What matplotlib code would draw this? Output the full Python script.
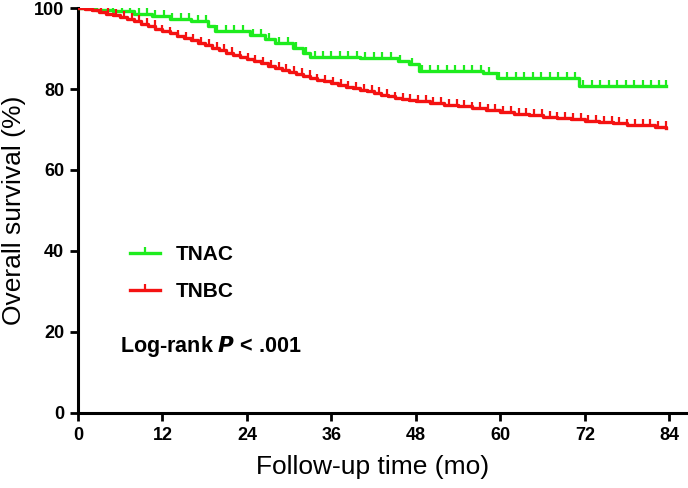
import matplotlib.pyplot as plt
import numpy as np

plt.rcParams['font.family'] = ['Liberation Sans', 'DejaVu Sans']

# Kaplan-Meier step points (months, % surviving)
tnac_t = [0, 2.5, 5, 8, 10.5, 13, 16, 18.5, 19.5, 24.5, 26.5, 28, 30.5, 32, 33,
          40, 45.5, 47, 48.5, 57.5, 59.5, 71.2, 83.6]
tnac_s = [100, 99.6, 99.2, 98.6, 98.0, 97.4, 96.8, 95.6, 94.2, 93.4, 92.4, 91.4,
          90.2, 89.0, 88.0, 87.6, 86.8, 86.2, 84.4, 84.0, 82.6, 80.8, 80.8]

tnbc_t = [0, 1, 2, 3, 4, 5, 6, 7, 8, 9, 10, 11, 12, 13, 14, 15, 16, 17, 18, 19,
          20, 21, 22, 23, 24, 25, 26, 27, 28, 29, 30, 31, 32, 33, 34, 35, 36, 37,
          38, 39, 40, 41, 42, 43, 44, 45, 46, 47, 48, 50, 52, 54, 56, 58, 60, 62,
          64, 66, 68, 70, 72, 74, 76, 78, 80, 82, 83.6]
tnbc_s = [100, 99.7, 99.4, 99.0, 98.6, 98.2, 97.7, 97.2, 96.7, 96.1, 95.5, 94.9,
          94.3, 93.8, 93.2, 92.6, 92.0, 91.4, 90.8, 90.2, 89.6, 89.0, 88.4, 87.9,
          87.3, 86.8, 86.3, 85.8, 85.3, 84.8, 84.3, 83.8, 83.3, 82.8, 82.3, 81.9,
          81.4, 81.0, 80.6, 80.2, 79.8, 79.4, 79.0, 78.6, 78.3, 77.9, 77.6, 77.4,
          77.1, 76.6, 76.1, 75.7, 75.2, 74.7, 74.3, 73.9, 73.5, 73.1, 72.8, 72.5,
          72.1, 71.8, 71.5, 71.2, 71.0, 70.7, 70.4]

# censored observations (months)
tnac_cens = [5.0, 6.2, 7.4, 8.6, 9.8, 11.0, 12.2, 13.4, 14.6, 15.8, 17.0, 18.2,
             19.8, 21.0, 22.2, 23.4, 24.8, 26.0, 27.2, 28.6, 29.8, 31.0, 32.4,
             33.6, 34.8, 36.0, 37.2, 38.4, 39.6, 40.8, 42.0, 43.2, 44.4, 45.8,
             47.4, 48.8, 50.0, 51.2, 52.4, 53.6, 54.8, 56.0, 57.2, 58.4, 59.8,
             61.0, 62.2, 63.4, 64.6, 65.8, 67.0, 68.2, 69.4, 70.6, 71.8, 73.0,
             74.2, 75.4, 76.6, 77.8, 79.0, 80.2, 81.4, 82.6, 83.6]
tnbc_cens = [1.0, 2.1, 3.2, 4.3, 5.4, 6.5, 7.6, 8.7, 9.8, 10.9, 12.0, 13.1, 14.2,
             15.3, 16.4, 17.5, 18.6, 19.7, 20.8, 21.9, 23.0, 24.1, 25.2, 26.3,
             27.4, 28.5, 29.6, 30.7, 31.8, 32.9, 34.0, 35.1, 36.2, 37.3, 38.4,
             39.5, 40.6, 41.7, 42.8, 43.9, 45.0, 46.1, 47.2, 48.3, 49.4, 50.5,
             51.6, 52.7, 53.8, 54.9, 56.0, 57.1, 58.2, 59.3, 60.4, 61.5, 62.6,
             63.7, 64.8, 65.9, 67.0, 68.1, 69.2, 70.3, 71.4, 72.5, 73.6, 74.7,
             75.8, 76.9, 78.0, 79.1, 80.2, 81.3, 82.4, 83.5]

green = '#1eec1e'
red = '#f41212'

fig = plt.figure(figsize=(6.88, 4.88), dpi=100)
ax = fig.add_axes([0.1134, 0.1537, 0.885, 0.8299])


def at(tt, ss, c):
    i = np.searchsorted(tt, c, side='right') - 1
    return np.array(ss)[i]


for tt, ss, cens, col, lab in [(tnac_t, tnac_s, tnac_cens, green, 'TNAC'),
                                (tnbc_t, tnbc_s, tnbc_cens, red, 'TNBC')]:
    ax.step(tt, ss, where='post', color=col, lw=2.4, zorder=3)
    ax.plot(cens, at(tt, ss, cens), ls='none', marker=2, ms=4, mew=1.6,
            color=col, zorder=3)
    ax.plot([], [], color=col, lw=2.4, marker=2, ms=4, mew=1.6, label=lab)

ax.set_xlim(0, 86.5)
ax.set_ylim(0, 100)
ax.set_xticks([0, 12, 24, 36, 48, 60, 72, 84])
ax.set_yticks([0, 20, 40, 60, 80, 100])
for s in ['top', 'right']:
    ax.spines[s].set_visible(False)
for s in ['left', 'bottom']:
    ax.spines[s].set_linewidth(2.2)
ax.tick_params(width=2, length=6, labelsize=13, pad=4)
for lb in ax.get_xticklabels() + ax.get_yticklabels():
    lb.set_fontweight('bold')

ax.set_xlabel('Follow-up time (mo)', fontsize=19, labelpad=8)
ax.xaxis.label.set_x(0.484)
ax.set_ylabel('Overall survival (%)', fontsize=19, labelpad=6)

ax.legend(loc='center left', bbox_to_anchor=(0.0553, 0.3457), frameon=False,
          handlelength=1.4, handletextpad=0.77, labelspacing=0.85, numpoints=1,
          prop={'weight': 'bold', 'size': 15})

ax.text(0.069, 0.163, r'Log-rank $\boldsymbol{P}$ < .001', transform=ax.transAxes,
        fontsize=15.5, fontweight='bold', va='center')

fig.savefig('out.png')
